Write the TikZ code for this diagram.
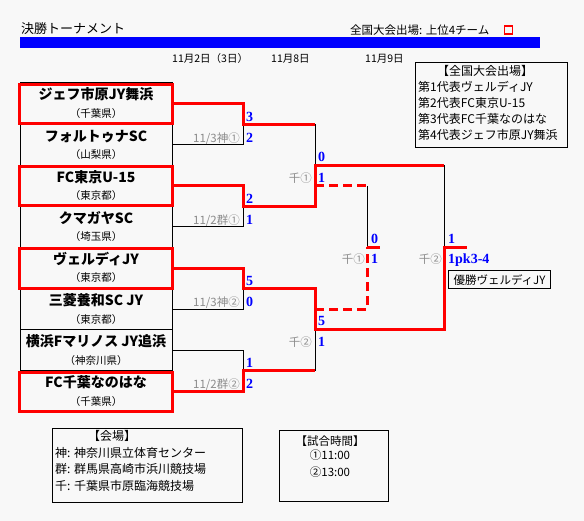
\documentclass[tikz,border=0pt]{standalone}
\usepackage{fontspec}
\setmainfont{Noto Sans CJK JP}
\newfontfamily\scorefont{Liberation Serif}
\usetikzlibrary{calc}
\definecolor{bggray}{HTML}{F8F8F8}
\definecolor{lblgray}{HTML}{8C8C8C}
\tikzset{team/.style={draw, line width=1pt, minimum width=152pt, minimum height=41.125pt, inner sep=0pt},
  winbox/.style={draw=red, line width=3pt},
  tname/.style={anchor=base, inner sep=0pt, font=\bfseries\fontsize{14}{14}\selectfont},
  tpref/.style={anchor=base, inner sep=0pt, font=\fontsize{10.5}{11}\selectfont},
  lose/.style={line width=1pt},
  win/.style={draw=red, line width=3pt},
  third/.style={draw=red, line width=3pt, dash pattern=on 9pt off 5pt},
  score/.style={anchor=base west, inner sep=0pt, text=blue, font=\scorefont\bfseries\fontsize{14}{14}\selectfont},
  mlab/.style={anchor=base east, inner sep=0pt, text=lblgray, font=\fontsize{11.5}{12}\selectfont},
  txt/.style={anchor=base west, inner sep=0pt, font=\fontsize{12}{12}\selectfont},
  infobox/.style={draw, line width=1pt, anchor=north west, inner sep=0pt}}

\begin{document}
\begin{tikzpicture}[x=1pt, y=-1pt]
  \useasboundingbox (0,0) rectangle (584,521);
  \fill[bggray] (0,0) rectangle (584,521);
  % heading
  \node[txt, font=\fontsize{13}{13}\selectfont] (ttl) at (21,34) {決勝トーナメント};
  \fill[blue] (20,37) rectangle (540,48);
  \node[txt, font=\fontsize{11.5}{12}\selectfont] (qual) at (350,35) {全国大会出場: 上位4チーム};
  \node[draw=red, line width=1.2pt, minimum size=8pt, inner sep=0pt] (qualsq) at (508.5,30) {};
  \node[txt, font=\fontsize{10.5}{11}\selectfont] (d1) at (172,63) {11月2日（3日）};
  \node[txt, font=\fontsize{10.5}{11}\selectfont] (d2) at (271,63) {11月8日};
  \node[txt, font=\fontsize{10.5}{11}\selectfont] (d3) at (365,63) {11月9日};
  % teams
  \foreach \i/\nm/\pf in {1/ジェフ市原JY舞浜/千葉県, 2/フォルトゥナSC/山梨県, 3/FC東京U-15/東京都,
      4/クマガヤSC/埼玉県, 5/ヴェルディJY/東京都, 6/三菱養和SC JY/東京都,
      7/横浜Fマリノス JY追浜/神奈川県, 8/FC千葉なのはな/千葉県}{
    \node[team] (t\i) at (96,{83+41.125*(\i-0.5)}) {};
    \node[tname] (n\i) at ($(t\i.north)+(0,17.5)$) {\nm};
    \node[tpref] (pf\i) at ($(t\i.north)+(0,35)$) {（\pf）};
  }
  % match points
  \foreach \m in {1,...,4}
    \coordinate (q\m) at (243,{83+41.125*(2*\m-1)});
  \coordinate (s1) at (315,165.25);
  \coordinate (s2) at (315,329.75);
  \coordinate (l1) at (315,185.8);
  \coordinate (l2) at (315,309.2);
  \coordinate (tp) at (367,247.5);
  \coordinate (f) at (444,247.5);
  \coordinate (champ) at (467,247.5);
  % losing sides
  \draw[lose] (t2.east) -| (q1);
  \draw[lose] (t4.east) -| (q2);
  \draw[lose] (t6.east) -| (q3);
  \draw[lose] (t7.east) -| (q4);
  \draw[lose] (q1 -| s1) -- (s1);
  \draw[lose] (q4 -| s2) -- (s2);
  \draw[lose] (s1 -| f) -- (f);
  \draw[lose] (l1 -| tp) -- (tp);
  % winning sides
  \draw[win] (t1.east) -| (q1) -- (q1 -| s1);
  \draw[win] (t3.east) -| (q2) -- (q2 -| s1) -- (s1) -- (s1 -| f);
  \draw[win] (t5.east) -| (q3) -- (q3 -| s2) -- (s2) -- (s2 -| f) -- (f) -- (champ);
  \draw[win] (t8.east) -| (q4) -- (q4 -| s2);
  % 3rd place
  \draw[third] (l1) -- (l1 -| tp);
  \draw[third] (l2) -- (l2 -| tp) -- (tp);
  \draw[win] (tp) -- ++(13,0);
  \foreach \i in {1,3,5,8}
    \draw[winbox] ($(t\i.north west)+(0,2)$) rectangle ($(t\i.south east)+(0,-1)$);
  % scores and venues
  \node[score] (sc1a) at ($(q1)+(3,-3)$) {3};
  \node[score] (sc1b) at ($(q1)+(3,18)$) {2};
  \node[mlab] (m1) at ($(q1)+(-3,18)$) {11/3神①};
  \node[score] (sc2a) at ($(q2)+(3,-3)$) {2};
  \node[score] (sc2b) at ($(q2)+(3,18)$) {1};
  \node[mlab] (m2) at ($(q2)+(-3,18)$) {11/2群①};
  \node[score] (sc3a) at ($(q3)+(3,-3)$) {5};
  \node[score] (sc3b) at ($(q3)+(3,18)$) {0};
  \node[mlab] (m3) at ($(q3)+(-3,18)$) {11/3神②};
  \node[score] (sc4a) at ($(q4)+(3,-3)$) {1};
  \node[score] (sc4b) at ($(q4)+(3,18)$) {2};
  \node[mlab] (m4) at ($(q4)+(-3,18)$) {11/2群②};
  \node[score] (ss1a) at ($(s1)+(3,-4)$) {0};
  \node[score] (ss1b) at ($(s1)+(3,17)$) {1};
  \node[mlab] (ms1) at ($(s1)+(-3,17)$) {千①};
  \node[score] (ss2a) at ($(s2)+(3,-4)$) {5};
  \node[score] (ss2b) at ($(s2)+(3,17)$) {1};
  \node[mlab] (ms2) at ($(s2)+(-3,17)$) {千②};
  \node[score] (stpa) at ($(tp)+(4,-4)$) {0};
  \node[score] (stpb) at ($(tp)+(4,16)$) {1};
  \node[mlab] (mtp) at ($(tp)+(-2,16)$) {千①};
  \node[score] (sfa) at ($(f)+(4,-4)$) {1};
  \node[score] (sfb) at ($(f)+(4,16)$) {1pk3-4};
  \node[mlab] (mf) at ($(f)+(-2,16)$) {千②};
  \node[draw, line width=1pt, anchor=north west, inner sep=2pt, minimum width=102pt, minimum height=18pt,
    font=\fontsize{11.5}{12}\selectfont] (champbox) at ($(f)+(4,23)$) {優勝ヴェルディJY};
  % qualified teams
  \node[infobox, minimum width=152pt, minimum height=85pt] (natbox) at (415,62) {};
  \node[txt, anchor=base] (nat0) at ($(natbox.north west)+(70,13.5)$) {【全国大会出場】};
  \foreach \k/\t in {1/第1代表ヴェルディJY, 2/第2代表FC東京U-15, 3/第3代表FC千葉なのはな, 4/第4代表ジェフ市原JY舞浜}
    \node[txt] (nat\k) at ($(natbox.north west)+(3,{13.5+16*\k})$) {\t};
  % venues
  \node[infobox, minimum width=190pt, minimum height=74pt] (venue) at (52,428) {};
  \node[txt, anchor=base] (ven0) at ($(venue.north west)+(60,12.5)$) {【会場】};
  \foreach \k/\t in {1/神: 神奈川県立体育センター, 2/群: 群馬県高崎市浜川競技場, 3/千: 千葉県市原臨海競技場}
    \node[txt] (ven\k) at ($(venue.north west)+(3,{12.5+16.7*\k})$) {\t};
  % kick-off times
  \node[infobox, minimum width=109pt, minimum height=71pt] (kick) at (279,430) {};
  \node[txt, anchor=base, font=\fontsize{11.5}{12}\selectfont] (kick0) at ($(kick.north west)+(51,15)$) {【試合時間】};
  \node[txt, anchor=base, font=\fontsize{11.5}{12}\selectfont] (kick1) at ($(kick.north west)+(51,29.5)$) {①11:00};
  \node[txt, anchor=base, font=\fontsize{11.5}{12}\selectfont] (kick2) at ($(kick.north west)+(51,46)$) {②13:00};
\end{tikzpicture}
\end{document}
